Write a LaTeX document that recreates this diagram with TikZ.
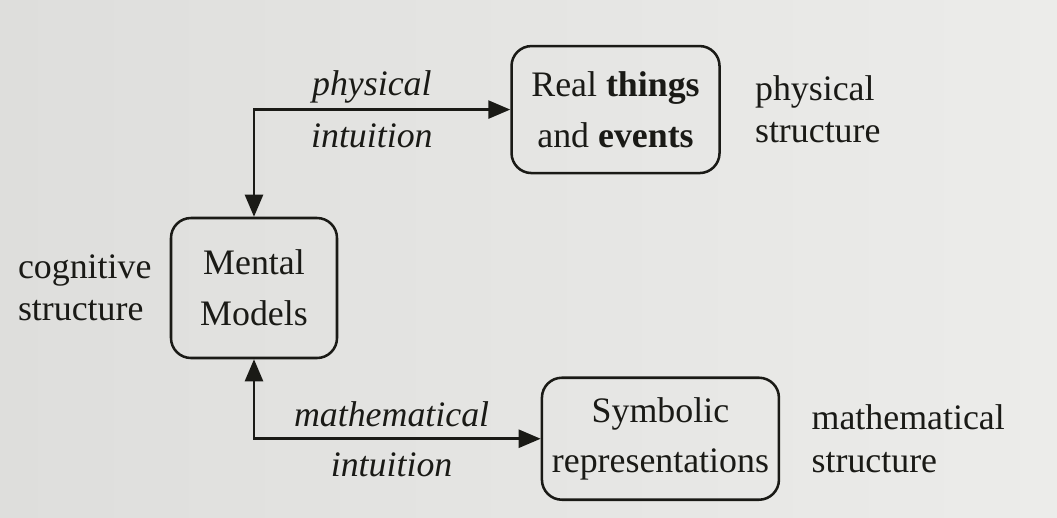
\documentclass[tikz,border=0pt]{standalone}
\usepackage{fontspec}
\setmainfont{Liberation Serif}
\usepackage{xcolor}
\usetikzlibrary{positioning,arrows.meta}

\definecolor{paperl}{RGB}{222,222,220}
\definecolor{paperr}{RGB}{236,236,234}
\definecolor{ink}{RGB}{26,26,22}

\begin{document}
\begin{tikzpicture}[node distance=1cm, >={Triangle[length=0.55cm,width=0.45cm]}, font=\fontsize{25.5}{36}\selectfont]
    \tikzstyle{box}=[rectangle, draw=ink, text=ink, line width=1.8pt, rounded corners=0.5cm, align=center]
    \tikzstyle{side}=[inner sep=0pt, align=left, text=ink, font=\fontsize{25.5}{30}\selectfont]
    \tikzstyle{link}=[<->, draw=ink, line width=1.8pt]
    \tikzstyle{lbl}=[text=ink, font=\fontsize{25.5}{30}\selectfont\itshape]

    % page background
    \shade[left color=paperl, right color=paperr] (-6.35,7.2) rectangle (20.075,-5.725);

    \node[box, minimum width=4.15cm, minimum height=3.5cm] (mental) {Mental\\Models};
    \node[box, minimum width=5.2cm, minimum height=3.175cm, above right=1.06cm and 4.3cm of mental.north east] (real) {Real \textbf{things}\\and \textbf{events}};
    \node[box, minimum width=5.925cm, minimum height=3.05cm, below right=0.43cm and 5.06cm of mental.south east] (symb) {Symbolic\\representations};

    \node[side, left=0.45cm of mental] (cogn) {cognitive\\structure};
    \node[side, right=0.85cm of real] (phys) {physical\\structure};
    \node[side, right=0.78cm of symb] (math) {mathematical\\structure};

    \draw[link] (mental) |- node[lbl, pos=0.73, above=0pt] {physical} node[lbl, pos=0.73, below=6pt] {intuition} (real);
    \draw[link] (mental) |- node[lbl, pos=0.74, above=4pt] {mathematical} node[lbl, pos=0.74, below=6pt] {intuition} (symb);
\end{tikzpicture}
\end{document}
